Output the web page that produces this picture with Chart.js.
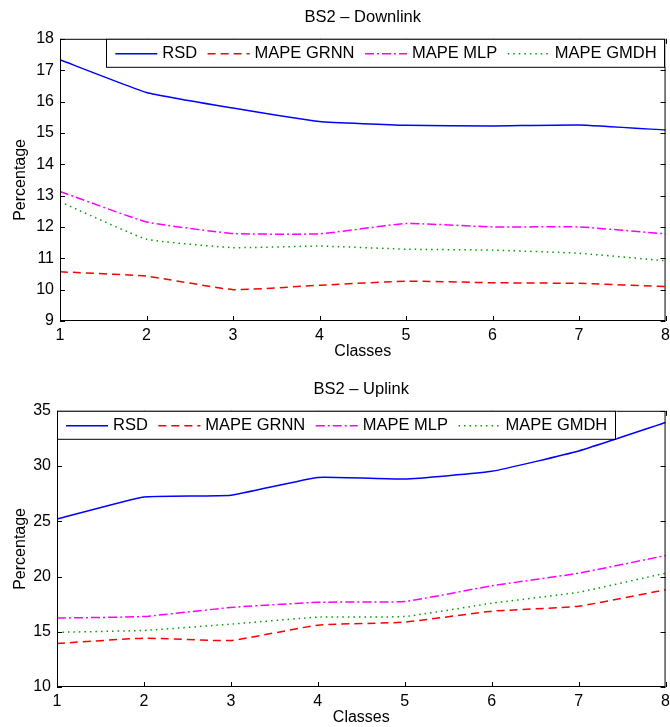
<!DOCTYPE html>
<html>
<head>
<meta charset="UTF-8">
<title>BS2</title>
<script src="https://cdn.jsdelivr.net/npm/chart.js"></script>
<style>
  body { margin: 0; background: #fff; }
  .wrap { position: relative; width: 670px; }
</style>
</head>
<body>
<div class="wrap" style="height:364px"><canvas id="down"></canvas></div>
<div class="wrap" style="height:363px"><canvas id="up"></canvas></div>
<script>
const classes = ['1', '2', '3', '4', '5', '6', '7', '8'];
const seriesNames = ['RSD', 'MAPE GRNN', 'MAPE MLP', 'MAPE GMDH'];

// BS2 - Downlink
const downRSD  = [17.33, 16.29, 15.79, 15.36, 15.24, 15.22, 15.25, 15.09];
const downGRNN = [10.57, 10.43, 10.00, 10.14, 10.27, 10.22, 10.20, 10.10];
const downMLP  = [13.13, 12.16, 11.79, 11.78, 12.11, 12.00, 12.00, 11.78];
const downGMDH = [12.80, 11.61, 11.34, 11.39, 11.29, 11.26, 11.16, 10.92];

// BS2 - Uplink
const upRSD  = [25.20, 27.20, 27.36, 28.97, 28.82, 29.52, 31.36, 33.94];
const upGRNN = [13.94, 14.42, 14.21, 15.60, 15.87, 16.86, 17.31, 18.80];
const upMLP  = [16.24, 16.38, 17.20, 17.67, 17.74, 19.16, 20.30, 21.90];
const upGMDH = [14.95, 15.12, 15.69, 16.32, 16.38, 17.58, 18.58, 20.30];

const FONT = '"Liberation Sans", Arial, Helvetica, sans-serif';
const styles = [
  { color: '#0000ff', dash: [] },
  { color: '#ff0000', dash: [8, 5] },
  { color: '#ff00ff', dash: [9, 3, 2, 3] },
  { color: '#00a000', dash: [1.5, 4] }
];

// matlab-like box, inward ticks and boxed legend
const frame = {
  id: 'frame',
  afterDatasetsDraw(chart, args, opts) {
    const { ctx, chartArea: a, scales: { x, y } } = chart;
    ctx.save();
    ctx.strokeStyle = '#000';
    ctx.lineWidth = 1;
    ctx.setLineDash([]);
    ctx.strokeRect(a.left + 0.5, a.top + 0.5, a.width - 1, a.height - 1);
    ctx.beginPath();
    const tl = 5;
    y.ticks.forEach(t => {
      const py = Math.round(y.getPixelForValue(t.value)) + 0.5;
      ctx.moveTo(a.left, py); ctx.lineTo(a.left + tl, py);
      ctx.moveTo(a.right, py); ctx.lineTo(a.right - tl, py);
    });
    x.ticks.forEach((t, i) => {
      const px = Math.round(x.getPixelForTick(i)) + 0.5;
      ctx.moveTo(px, a.bottom); ctx.lineTo(px, a.bottom - tl);
      ctx.moveTo(px, a.top); ctx.lineTo(px, a.top + tl);
    });
    ctx.stroke();

    // legend
    ctx.font = '16.5px ' + FONT;
    const pad = 9, sample = 42, gapT = 5, gapI = 10.5, h = 28;
    const items = chart.data.datasets.map(ds => ({ ds, w: ctx.measureText(ds.label).width }));
    let total = pad * 2 - gapI;
    items.forEach(it => { total += sample + gapT + it.w + gapI; });
    const bx = opts.align === 'right' ? a.right - total : a.left;
    const by = a.top;
    ctx.fillStyle = '#fff';
    ctx.fillRect(bx, by, total, h);
    ctx.strokeRect(Math.round(bx) + 0.5, by + 0.5, Math.round(total) - 1, h);
    let cx = bx + pad;
    const cy = by + h / 2 + 1;
    items.forEach(it => {
      ctx.beginPath();
      ctx.strokeStyle = it.ds.borderColor;
      ctx.lineWidth = 1.5;
      ctx.setLineDash(it.ds.borderDash);
      ctx.moveTo(cx, cy); ctx.lineTo(cx + sample, cy);
      ctx.stroke();
      ctx.setLineDash([]);
      cx += sample + gapT;
      ctx.fillStyle = '#000';
      ctx.textBaseline = 'middle';
      ctx.textAlign = 'left';
      ctx.fillText(it.ds.label, cx, cy);
      cx += it.w + gapI;
    });
    ctx.restore();
  }
};

function makeChart(id, title, series, yMin, yMax, yStep, opts) {
  const datasets = series.map((vals, i) => ({
    label: seriesNames[i],
    data: vals,
    borderColor: styles[i].color,
    borderDash: styles[i].dash,
    borderWidth: 1.5,
    pointRadius: 0,
    tension: 0.12,
    fill: false
  }));
  return new Chart(document.getElementById(id), {
    type: 'line',
    data: { labels: classes, datasets },
    plugins: [frame],
    options: {
      responsive: true,
      maintainAspectRatio: false,
      devicePixelRatio: 1,
      animation: false,
      layout: { padding: { left: 0, right: 4, top: 0, bottom: 0 } },
      plugins: {
        legend: { display: false },
        tooltip: { enabled: false },
        title: {
          display: true,
          fullSize: false,
          text: title,
          color: '#000',
          font: { family: FONT, size: 16.5, weight: 'normal' },
          padding: { top: opts.titleTop, bottom: opts.titleBottom }
        },
        frame: { align: opts.legendAlign }
      },
      scales: {
        x: {
          offset: false,
          grid: { display: false, drawTicks: true, tickLength: opts.xPad },
          border: { display: false },
          ticks: { color: '#000', padding: 0, font: { family: FONT, size: 16 } },
          title: {
            display: true, text: 'Classes', color: '#000',
            font: { family: FONT, size: 16 }, padding: { top: 0, bottom: opts.xTitleBottom }
          },
          afterFit: s => { s.height = opts.xHeight; }
        },
        y: {
          min: yMin, max: yMax,
          grid: { display: false, drawTicks: false },
          border: { display: false },
          ticks: { stepSize: yStep, color: '#000', padding: 6, font: { family: FONT, size: 16 } },
          title: {
            display: true, text: 'Percentage', color: '#000',
            font: { family: FONT, size: 16 }, padding: { top: 11, bottom: 0 }
          },
          afterFit: s => { s.width = opts.yWidth; }
        }
      }
    }
  });
}

makeChart('down', 'BS2 \u2013 Downlink', [downRSD, downGRNN, downMLP, downGMDH], 9, 18, 1,
  { legendAlign: 'right', titleTop: 8, titleBottom: 11, xHeight: 43, xPad: 5, xTitleBottom: 3, yWidth: 60 });
makeChart('up', 'BS2 \u2013 Uplink', [upRSD, upGRNN, upMLP, upGMDH], 10, 35, 5,
  { legendAlign: 'left', titleTop: 16, titleBottom: 11, xHeight: 40, xPad: 5, xTitleBottom: 0, yWidth: 57 });
</script>
</body>
</html>
